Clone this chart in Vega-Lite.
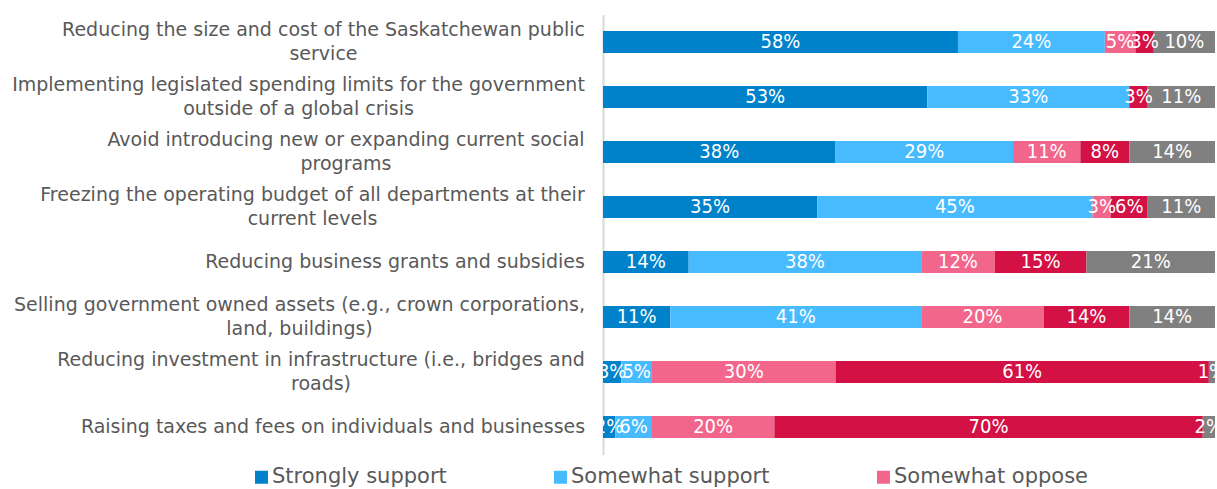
{
  "$schema": "https://vega.github.io/schema/vega-lite/v6.json",
  "autosize": {"type": "none"},
  "padding": {"left": 603, "top": 14.5, "right": 2, "bottom": 34.5},
  "width": 612,
  "height": 440,
  "background": "white",
  "config": {"view": {"stroke": null}},
  "data": {
    "values": [
      {"item": "Reducing the size and cost of the Saskatchewan public\nservice", "resp": "Strongly support", "pct": 58},
      {"item": "Reducing the size and cost of the Saskatchewan public\nservice", "resp": "Somewhat support", "pct": 24},
      {"item": "Reducing the size and cost of the Saskatchewan public\nservice", "resp": "Somewhat oppose", "pct": 5},
      {"item": "Reducing the size and cost of the Saskatchewan public\nservice", "resp": "Strongly oppose", "pct": 3},
      {"item": "Reducing the size and cost of the Saskatchewan public\nservice", "resp": "Don't know", "pct": 10},
      {"item": "Implementing legislated spending limits for the government\noutside of a global crisis", "resp": "Strongly support", "pct": 53},
      {"item": "Implementing legislated spending limits for the government\noutside of a global crisis", "resp": "Somewhat support", "pct": 33},
      {"item": "Implementing legislated spending limits for the government\noutside of a global crisis", "resp": "Strongly oppose", "pct": 3},
      {"item": "Implementing legislated spending limits for the government\noutside of a global crisis", "resp": "Don't know", "pct": 11},
      {"item": "Avoid introducing new or expanding current social\nprograms", "resp": "Strongly support", "pct": 38},
      {"item": "Avoid introducing new or expanding current social\nprograms", "resp": "Somewhat support", "pct": 29},
      {"item": "Avoid introducing new or expanding current social\nprograms", "resp": "Somewhat oppose", "pct": 11},
      {"item": "Avoid introducing new or expanding current social\nprograms", "resp": "Strongly oppose", "pct": 8},
      {"item": "Avoid introducing new or expanding current social\nprograms", "resp": "Don't know", "pct": 14},
      {"item": "Freezing the operating budget of all departments at their\ncurrent levels", "resp": "Strongly support", "pct": 35},
      {"item": "Freezing the operating budget of all departments at their\ncurrent levels", "resp": "Somewhat support", "pct": 45},
      {"item": "Freezing the operating budget of all departments at their\ncurrent levels", "resp": "Somewhat oppose", "pct": 3},
      {"item": "Freezing the operating budget of all departments at their\ncurrent levels", "resp": "Strongly oppose", "pct": 6},
      {"item": "Freezing the operating budget of all departments at their\ncurrent levels", "resp": "Don't know", "pct": 11},
      {"item": "Reducing business grants and subsidies", "resp": "Strongly support", "pct": 14},
      {"item": "Reducing business grants and subsidies", "resp": "Somewhat support", "pct": 38},
      {"item": "Reducing business grants and subsidies", "resp": "Somewhat oppose", "pct": 12},
      {"item": "Reducing business grants and subsidies", "resp": "Strongly oppose", "pct": 15},
      {"item": "Reducing business grants and subsidies", "resp": "Don't know", "pct": 21},
      {"item": "Selling government owned assets (e.g., crown corporations,\nland, buildings)", "resp": "Strongly support", "pct": 11},
      {"item": "Selling government owned assets (e.g., crown corporations,\nland, buildings)", "resp": "Somewhat support", "pct": 41},
      {"item": "Selling government owned assets (e.g., crown corporations,\nland, buildings)", "resp": "Somewhat oppose", "pct": 20},
      {"item": "Selling government owned assets (e.g., crown corporations,\nland, buildings)", "resp": "Strongly oppose", "pct": 14},
      {"item": "Selling government owned assets (e.g., crown corporations,\nland, buildings)", "resp": "Don't know", "pct": 14},
      {"item": "Reducing investment in infrastructure (i.e., bridges and\nroads)", "resp": "Strongly support", "pct": 3},
      {"item": "Reducing investment in infrastructure (i.e., bridges and\nroads)", "resp": "Somewhat support", "pct": 5},
      {"item": "Reducing investment in infrastructure (i.e., bridges and\nroads)", "resp": "Somewhat oppose", "pct": 30},
      {"item": "Reducing investment in infrastructure (i.e., bridges and\nroads)", "resp": "Strongly oppose", "pct": 61},
      {"item": "Reducing investment in infrastructure (i.e., bridges and\nroads)", "resp": "Don't know", "pct": 1},
      {"item": "Raising taxes and fees on individuals and businesses", "resp": "Strongly support", "pct": 2},
      {"item": "Raising taxes and fees on individuals and businesses", "resp": "Somewhat support", "pct": 6},
      {"item": "Raising taxes and fees on individuals and businesses", "resp": "Somewhat oppose", "pct": 20},
      {"item": "Raising taxes and fees on individuals and businesses", "resp": "Strongly oppose", "pct": 70},
      {"item": "Raising taxes and fees on individuals and businesses", "resp": "Don't know", "pct": 2}
    ]
  },
  "transform": [
    {"calculate": "datum.resp=='Strongly support'?0:datum.resp=='Somewhat support'?1:datum.resp=='Somewhat oppose'?2:datum.resp=='Strongly oppose'?3:4", "as": "o"},
    {"stack": "pct", "groupby": ["item"], "sort": [{"field": "o", "order": "ascending"}], "as": ["v0", "v1"]},
    {"calculate": "(datum.v0+datum.v1)/2", "as": "mid"},
    {"calculate": "datum.pct + '%'", "as": "lbl"}
  ],
  "encoding": {
    "y": {
      "field": "item",
      "type": "nominal",
      "sort": null,
      "scale": {"paddingInner": 0, "paddingOuter": 0},
      "axis": {
        "title": null,
        "ticks": false,
        "labelExpr": "split(datum.label, '\\n')",
        "labelFont": "DejaVu Sans",
        "labelFontSize": 19,
        "labelColor": "#595959",
        "labelLineHeight": 24,
        "labelAlign": "center",
        "labelOffset": {"condition": {"test": "indexof(datum.label, '\\n') >= 0", "value": -12}, "value": 0},
        "labelPadding": {
          "condition": [
            {"test": "indexof(datum.label, 'Saskatchewan') >= 0", "value": 280},
            {"test": "indexof(datum.label, 'Implementing') >= 0", "value": 305},
            {"test": "indexof(datum.label, 'Avoid') >= 0", "value": 257.5},
            {"test": "indexof(datum.label, 'Freezing') >= 0", "value": 291},
            {"test": "indexof(datum.label, 'grants') >= 0", "value": 208.5},
            {"test": "indexof(datum.label, 'Selling') >= 0", "value": 304},
            {"test": "indexof(datum.label, 'infrastructure') >= 0", "value": 282.5}
          ],
          "value": 270.5
        },
        "labelLimit": 700,
        "domainColor": "#d9d9d9",
        "domainWidth": 2
      }
    }
  },
  "layer": [
    {
      "mark": {"type": "bar", "size": 22},
      "encoding": {
        "x": {"field": "v0", "type": "quantitative", "scale": {"domain": [0, 100], "nice": false}, "axis": null},
        "x2": {"field": "v1"},
        "color": {
          "field": "resp",
          "type": "nominal",
          "scale": {
            "domain": ["Strongly support", "Somewhat support", "Somewhat oppose", "Strongly oppose", "Don't know"],
            "range": ["#0082CA", "#48BBFF", "#F2668B", "#D31145", "#808080"]
          },
          "legend": {
            "title": null,
            "orient": "none",
            "direction": "horizontal",
            "legendX": -352,
            "legendY": 452,
            "values": ["Strongly support", "Somewhat support", "Somewhat oppose"],
            "symbolType": "square",
            "symbolSize": 169,
            "symbolStrokeWidth": 0,
            "symbolOpacity": 1,
            "labelFont": "DejaVu Sans",
            "labelFontSize": 21,
            "labelColor": "#595959",
            "labelOffset": 0,
            "labelLimit": 400,
            "columnPadding": 103,
            "padding": 0
          }
        }
      }
    },
    {
      "mark": {"type": "text", "color": "white", "font": "DejaVu Sans Condensed", "fontSize": 20, "baseline": "middle", "align": "center", "clip": true},
      "encoding": {
        "x": {"field": "mid", "type": "quantitative"},
        "text": {"field": "lbl", "type": "nominal"}
      }
    }
  ]
}
